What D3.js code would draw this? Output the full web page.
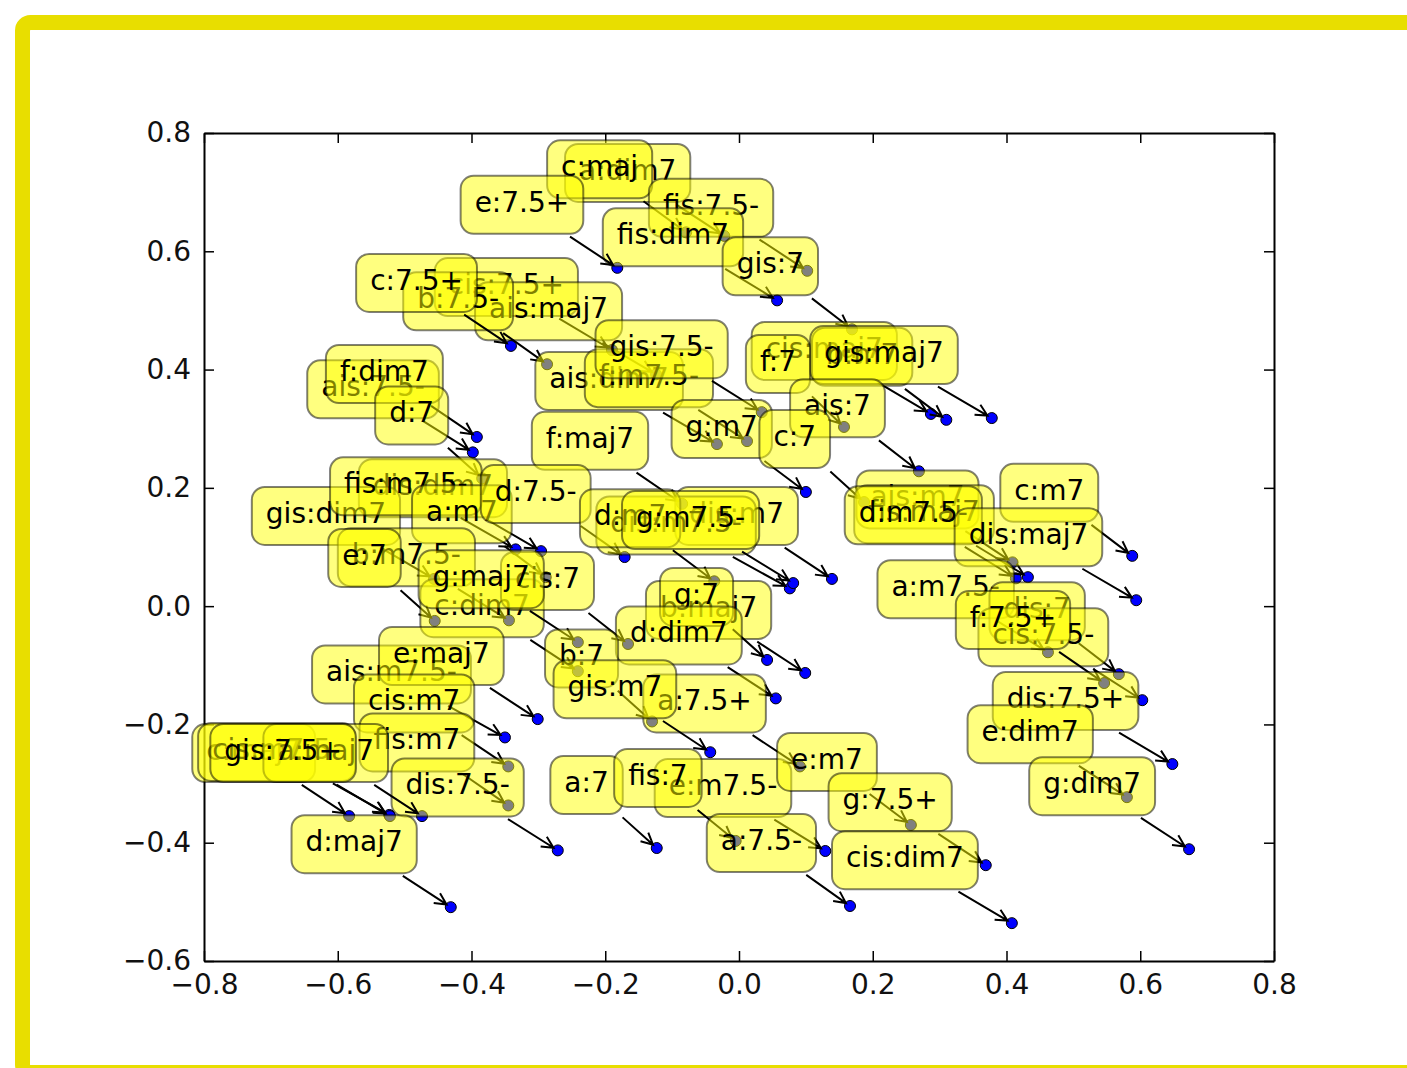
<!DOCTYPE html>
<html>
<head>
<meta charset="utf-8">
<script src="https://cdn.jsdelivr.net/npm/d3@7"></script>
<style>
  body { margin: 0; background: #fff; }
  svg { display: block; }
</style>
</head>
<body>
<svg id="chart" width="1407" height="1068"></svg>
<script>
// chord labels, in drawing order (later ones sit on top)
const labels = [
  'a:dim7', 'cis:7.5+', 'ais:maj7', 'b:7.5-', 'c:maj', 'fis:7.5-', 'fis:dim7', 'e:7.5+', 'gis:7', 'c:7.5+',
  'ais:7.5-', 'f:dim7', 'd:7', 'cis:maj7', 'b:m7', 'gis:maj7', 'f:7', 'ais:7', 'ais:dim7', 'f:m7.5-',
  'gis:7.5-', 'g:m7', 'c:7', 'f:maj7', 'ais:m7', 'fis:maj7', 'd:m7.5-', 'c:m7', 'dis:maj7', 'a:m7.5-',
  'dis:7', 'cis:7.5-', 'f:7.5+', 'dis:7.5+', 'e:dim7', 'g:dim7', 'dis:dim7', 'gis:dim7', 'fis:m7.5-', 'a:m7',
  'd:7.5-', 'b:m7.5-', 'e:7', 'c:dim7', 'cis:7', 'g:maj7', 'dis:m7', 'dis:m7.5-', 'd:m7', 'g:m7.5-',
  'b:maj7', 'g:7', 'd:dim7', 'b:7', 'a:7.5+', 'gis:m7', 'ais:m7.5-', 'e:maj7', 'cis:m7', 'fis:m7',
  'dis:7.5-', 'c:maj7', 'cis:m7.5-', 'a:maj7', 'gis:7.5+', 'd:maj7', 'a:7', 'e:m7.5-', 'fis:7', 'e:m7',
  'a:7.5-', 'g:7.5+', 'cis:dim7'
];

const xs = [
  -0.022, -0.190, -0.124, -0.287, -0.079, 0.102, 0.057, -0.182, 0.169, -0.341,
  -0.398, -0.392, -0.384, 0.287, 0.310, 0.378, 0.157, 0.269, -0.033, 0.012,
  0.034, 0.100, 0.187, -0.085, 0.409, 0.432, 0.414, 0.588, 0.594, 0.462,
  0.568, 0.603, 0.546, 0.648, 0.580, 0.673, -0.296, -0.456, -0.334, -0.289,
  -0.171, -0.344, -0.455, -0.241, -0.166, -0.241, 0.139, 0.076, -0.037, 0.081,
  0.099, 0.042, 0.055, -0.130, 0.091, -0.043, -0.350, -0.301, -0.345, -0.345,
  -0.271, -0.583, -0.523, -0.474, -0.522, -0.431, -0.123, 0.129, -0.005, 0.257,
  0.166, 0.369, 0.408
];

const ys = [
  0.626, 0.433, 0.392, 0.409, 0.632, 0.567, 0.517, 0.572, 0.468, 0.440,
  0.260, 0.286, 0.216, 0.325, 0.315, 0.318, 0.303, 0.228, 0.274, 0.279,
  0.328, 0.193, 0.176, 0.173, 0.074, 0.049, 0.047, 0.085, 0.010, -0.078,
  -0.115, -0.159, -0.130, -0.267, -0.323, -0.411, 0.093, 0.046, 0.096, 0.049,
  0.083, -0.024, -0.025, -0.110, -0.064, -0.061, 0.046, 0.030, 0.042, 0.039,
  -0.113, -0.091, -0.156, -0.195, -0.271, -0.247, -0.222, -0.191, -0.271, -0.337,
  -0.413, -0.355, -0.353, -0.355, -0.355, -0.509, -0.409, -0.414, -0.397, -0.370,
  -0.507, -0.438, -0.536
];

const xTicks = [-0.8, -0.6, -0.4, -0.2, 0.0, 0.2, 0.4, 0.6, 0.8];
const yTicks = [-0.6, -0.4, -0.2, 0.0, 0.2, 0.4, 0.6, 0.8];

const plot = { left: 204, right: 1274, top: 133, bottom: 961 };
const FONT = 'DejaVu Sans, Verdana, sans-serif';
const FS = 28;

const svg = d3.select('#chart');

// yellow frame around the picture
svg.append('rect')
  .attr('x', 22.5).attr('y', 22.5)
  .attr('width', 1430).attr('height', 1050)
  .attr('rx', 8)
  .attr('fill', 'none')
  .attr('stroke', '#e8de00')
  .attr('stroke-width', 15);

const x = d3.scaleLinear().domain([-0.8, 0.8]).range([plot.left, plot.right]);
const y = d3.scaleLinear().domain([-0.6, 0.8]).range([plot.bottom, plot.top]);

const fmt = d3.format('.1f');

function styleAxis(g) {
  g.attr('font-family', FONT).attr('font-size', FS);
  g.select('.domain').attr('stroke', '#000').attr('stroke-width', 2);
  g.selectAll('.tick line').attr('stroke', '#000').attr('stroke-width', 1.5);
  g.selectAll('.tick text').attr('fill', '#111');
}

svg.append('g')
  .attr('transform', `translate(0,${plot.bottom})`)
  .call(d3.axisBottom(x).tickValues(xTicks).tickFormat(fmt).tickSizeInner(-10).tickSizeOuter(0).tickPadding(13))
  .call(styleAxis);

svg.append('g')
  .attr('transform', `translate(0,${plot.top})`)
  .call(d3.axisTop(x).tickValues(xTicks).tickFormat('').tickSizeInner(-10).tickSizeOuter(0))
  .call(styleAxis);

svg.append('g')
  .attr('transform', `translate(${plot.left},0)`)
  .call(d3.axisLeft(y).tickValues(yTicks).tickFormat(fmt).tickSizeInner(-10).tickSizeOuter(0).tickPadding(13))
  .call(styleAxis);

svg.append('g')
  .attr('transform', `translate(${plot.right},0)`)
  .call(d3.axisRight(y).tickValues(yTicks).tickFormat('').tickSizeInner(-10).tickSizeOuter(0))
  .call(styleAxis);

// scatter points (under every annotation)
svg.append('g')
  .selectAll('circle')
  .data(labels)
  .enter()
  .append('circle')
  .attr('cx', (d, i) => x(xs[i]))
  .attr('cy', (d, i) => y(ys[i]))
  .attr('r', 5.5)
  .attr('fill', '#0000ff')
  .attr('stroke', '#000')
  .attr('stroke-width', 1);

// annotations: arrow, then box, then text, one after another
const OFF = 48, PAD = 14, BOXH = 58, SHRINK = 5, HEADL = 11.6, HEADW = 5.8;
const ann = svg.append('g').attr('font-family', FONT).attr('font-size', FS);

labels.forEach((lab, i) => {
  const px = x(xs[i]), py = y(ys[i]);
  const g = ann.append('g');
  const arrow = g.append('path');
  const box = g.append('rect');
  const t = g.append('text')
    .attr('x', px - OFF)
    .attr('y', py - 56)
    .attr('text-anchor', 'end')
    .attr('fill', '#000')
    .text(lab);

  const w = t.node().getComputedTextLength();
  const bx0 = px - OFF - w - PAD, bx1 = px - OFF + PAD;
  const by1 = py - 34, by0 = by1 - BOXH;

  box.attr('x', bx0).attr('y', by0)
    .attr('width', bx1 - bx0).attr('height', BOXH)
    .attr('rx', 13)
    .attr('fill', 'rgba(255,255,0,0.5)')
    .attr('stroke', 'rgba(0,0,0,0.5)')
    .attr('stroke-width', 2);

  // arrow from the box edge (toward the point) to the point
  const cx = (bx0 + bx1) / 2, cy = (by0 + by1) / 2;
  const dx = px - cx, dy = py - cy;
  const len = Math.hypot(dx, dy);
  const ux = dx / len, uy = dy / len;
  const tx = dx !== 0 ? Math.abs(((dx > 0 ? bx1 : bx0) - cx) / dx) : Infinity;
  const ty = dy !== 0 ? Math.abs(((dy > 0 ? by1 : by0) - cy) / dy) : Infinity;
  const tt = Math.min(tx, ty);
  const sx = cx + dx * tt + ux * SHRINK, sy = cy + dy * tt + uy * SHRINK;
  const ex = px - ux * SHRINK, ey = py - uy * SHRINK;
  const nx = -uy, ny = ux;
  const hx = ex - ux * HEADL, hy = ey - uy * HEADL;
  arrow.attr('d',
      `M${sx},${sy}L${ex},${ey}` +
      `M${hx + nx * HEADW},${hy + ny * HEADW}L${ex},${ey}L${hx - nx * HEADW},${hy - ny * HEADW}`)
    .attr('fill', 'none')
    .attr('stroke', '#000')
    .attr('stroke-width', 2);
});
</script>
</body>
</html>
